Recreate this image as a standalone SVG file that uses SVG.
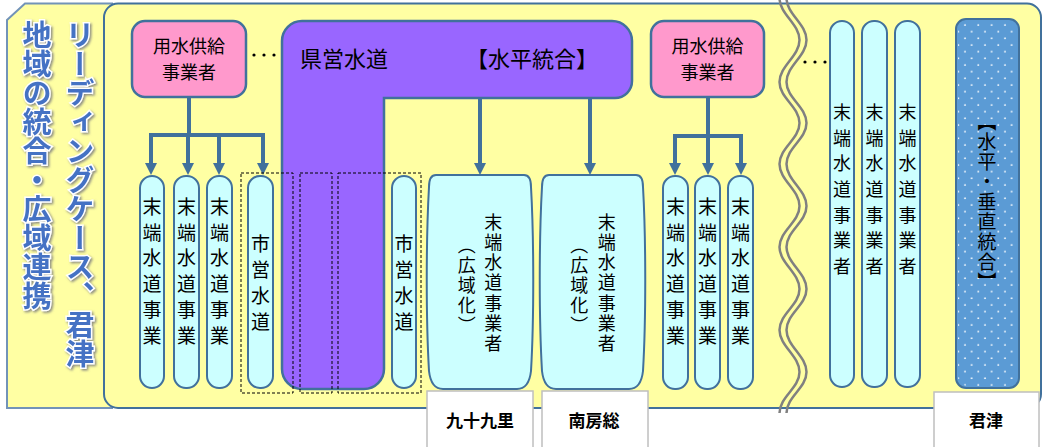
<svg xmlns="http://www.w3.org/2000/svg" width="1043" height="447" viewBox="0 0 1043 447">
<defs>
<style>
.jp{font-family:"Noto Sans CJK JP","Noto Sans CJK SC",sans-serif;fill:#000}
.v{writing-mode:vertical-rl}
.cap{fill:#ccffff;stroke:#41719c;stroke-width:2}
.pink{fill:#ff99cc;stroke:#41719c;stroke-width:2.5}
.conn{fill:none;stroke:#41719c;stroke-width:4}
.dash{fill:none;stroke:#000;stroke-width:1;stroke-dasharray:3 2}
.lab{fill:#fff;stroke:#bfbfbf;stroke-width:1.5}
.title{font-family:"Noto Sans CJK JP",sans-serif;font-weight:bold;font-size:29px;fill:#4472c4;stroke:#fff;stroke-width:3;paint-order:stroke;writing-mode:vertical-rl;filter:url(#sh)}
.wave{fill:none;stroke:#808080;stroke-width:2.5}
</style>
<filter id="sh" x="-20%" y="-5%" width="150%" height="110%">
<feDropShadow dx="1.5" dy="1.5" stdDeviation="1" flood-color="#7f7f7f" flood-opacity="0.9"/>
</filter>
<pattern id="dots" width="13.33" height="13.33" patternUnits="userSpaceOnUse" x="962" y="22">
<circle cx="3" cy="3" r="0.9" fill="#fff"/>
<circle cx="9.67" cy="9.67" r="0.9" fill="#fff"/>
</pattern>
<marker id="ah" viewBox="0 0 12 12" refX="0" refY="6" markerWidth="12" markerHeight="12" markerUnits="userSpaceOnUse" orient="auto">
<path d="M0,0 L12,6 L0,12 Z" fill="#41719c"/>
</marker>
</defs>

<g id="left-tab">
<path d="M7,20 L25,3.5 H112 V408 H7 Z" fill="#ffffa3" stroke="#7293b8" stroke-width="2"/>
<text class="title" x="80" y="20">リーディングケース、君津</text>
<text class="title" x="37" y="20">地域の統合・広域連携</text>
</g>

<g id="main-panel">
<rect x="104" y="3.5" width="937" height="404.5" rx="14" fill="#ffffa3" stroke="#41719c" stroke-width="2"/>
</g>

<g id="wave-break">
<path class="wave" transform="translate(-3.5,0)" d="M783,-2 C783,14 803,24 803,40 S783,66 783,82 S803,107 803,123 S783,148 783,164 S803,190 803,206 S783,231 783,247 S803,273 803,289 S783,314 783,330 S803,356 803,372 S783,397 783,413"/>
<path class="wave" transform="translate(3.5,0)" d="M783,-2 C783,14 803,24 803,40 S783,66 783,82 S803,107 803,123 S783,148 783,164 S803,190 803,206 S783,231 783,247 S803,273 803,289 S783,314 783,330 S803,356 803,372 S783,397 783,413"/>
</g>

<g id="ellipsis-dots" fill="#000">
<circle cx="254" cy="55" r="1.6"/><circle cx="264" cy="55" r="1.6"/><circle cx="274" cy="55" r="1.6"/>
<circle cx="805" cy="62" r="1.6"/><circle cx="815" cy="62" r="1.6"/><circle cx="825" cy="62" r="1.6"/>
</g>

<g id="supplier-left">
<rect class="pink" x="132" y="21" width="114" height="76" rx="13"/>
<text class="jp" font-size="18" text-anchor="middle"><tspan x="189" y="52.5">用水供給</tspan><tspan x="189" y="79">事業者</tspan></text>
</g>

<g id="supplier-right">
<rect class="pink" x="651" y="21" width="113" height="76" rx="13"/>
<text class="jp" font-size="18" text-anchor="middle"><tspan x="707.5" y="52.5">用水供給</tspan><tspan x="707.5" y="79">事業者</tspan></text>
</g>

<g id="prefectural-water">
<path d="M302,21 H612 A20,20 0 0 1 632,41 V81 A17,17 0 0 1 615,98 H384 V369 A20,20 0 0 1 364,389 H302 A20,20 0 0 1 282,369 V41 A20,20 0 0 1 302,21 Z" fill="#9966ff" stroke="#41719c" stroke-width="2.5"/>
<text class="jp" x="300" y="67" font-size="22">県営水道</text>
<text class="jp" x="532" y="67" font-size="22" text-anchor="middle">【水平統合】</text>
</g>

<g id="connectors">
<path class="conn" d="M189,97 V135"/>
<path class="conn" d="M149,135 H265"/>
<path class="conn" d="M151,135 V163" marker-end="url(#ah)"/>
<path class="conn" d="M188,135 V163" marker-end="url(#ah)"/>
<path class="conn" d="M219,135 V163" marker-end="url(#ah)"/>
<path class="conn" d="M263,135 V163" marker-end="url(#ah)"/>
<path class="conn" d="M480,98 V163" marker-end="url(#ah)"/>
<path class="conn" d="M590,98 V163" marker-end="url(#ah)"/>
<path class="conn" d="M708,97 V136"/>
<path class="conn" d="M673,136 H743"/>
<path class="conn" d="M675,136 V163" marker-end="url(#ah)"/>
<path class="conn" d="M708,136 V163" marker-end="url(#ah)"/>
<path class="conn" d="M741,136 V163" marker-end="url(#ah)"/>
</g>

<g id="end-user-l1"><rect class="cap" x="140" y="176" width="24" height="212" rx="12"/><text class="jp v" x="152" y="197" font-size="19" letter-spacing="6.8">末端水道事業</text></g>
<g id="end-user-l2"><rect class="cap" x="174" y="176" width="25" height="212" rx="12"/><text class="jp v" x="186.5" y="197" font-size="19" letter-spacing="6.8">末端水道事業</text></g>
<g id="end-user-l3"><rect class="cap" x="207" y="176" width="25" height="212" rx="12"/><text class="jp v" x="219.5" y="197" font-size="19" letter-spacing="6.8">末端水道事業</text></g>
<g id="city-water-1"><rect class="cap" x="248" y="176" width="25" height="212" rx="12"/><text class="jp v" x="260.5" y="234" font-size="19" letter-spacing="7">市営水道</text></g>
<g id="city-water-2"><rect class="cap" x="392" y="176" width="24" height="212" rx="12"/><text class="jp v" x="404" y="234" font-size="19" letter-spacing="7">市営水道</text></g>

<g id="dashed-groups">
<rect class="dash" x="241" y="173" width="52" height="220"/>
<rect class="dash" x="300" y="173" width="32" height="220"/>
<rect class="dash" x="338" y="173" width="83" height="220"/>
</g>

<g id="kujukuri-utility">
<path class="cap" d="M436,175 H524 Q531,175 531,187 C534,240 534,320 531,371 Q529,389 517,389 H443 Q431,389 429,371 C426,320 426,240 429,187 Q429,175 436,175 Z"/>
<text class="jp v" x="493.3" y="213" font-size="18" letter-spacing="2.2">末端水道事業者</text>
<text class="jp v" x="466.7" y="236" font-size="18" letter-spacing="2">（広域化）</text>
</g>
<g id="minamiboso-utility">
<path class="cap" d="M549,175 H636 Q643,175 643,187 C646,240 646,320 643,371 Q641,389 629,389 H556 Q544,389 542,371 C539,320 539,240 542,187 Q542,175 549,175 Z"/>
<text class="jp v" x="606.7" y="213" font-size="18" letter-spacing="2.2">末端水道事業者</text>
<text class="jp v" x="579.3" y="236" font-size="18" letter-spacing="2">（広域化）</text>
</g>

<g id="end-user-r1"><rect class="cap" x="663" y="176" width="25" height="213" rx="12"/><text class="jp v" x="675.5" y="197" font-size="19" letter-spacing="6.8">末端水道事業</text></g>
<g id="end-user-r2"><rect class="cap" x="695" y="176" width="25" height="213" rx="12"/><text class="jp v" x="707.5" y="197" font-size="19" letter-spacing="6.8">末端水道事業</text></g>
<g id="end-user-r3"><rect class="cap" x="728" y="176" width="25" height="213" rx="12"/><text class="jp v" x="740.5" y="197" font-size="19" letter-spacing="6.8">末端水道事業</text></g>

<g id="end-user-t1"><rect class="cap" x="830" y="21" width="24" height="366" rx="12"/><text class="jp v" x="842" y="103" font-size="18" letter-spacing="7.7">末端水道事業者</text></g>
<g id="end-user-t2"><rect class="cap" x="862" y="21" width="25" height="366" rx="12"/><text class="jp v" x="874.5" y="103" font-size="18" letter-spacing="7.7">末端水道事業者</text></g>
<g id="end-user-t3"><rect class="cap" x="895" y="21" width="25" height="366" rx="12"/><text class="jp v" x="907.5" y="103" font-size="18" letter-spacing="7.7">末端水道事業者</text></g>

<g id="kimitsu-integrated">
<rect x="956" y="19" width="63" height="369" rx="10" fill="#5b9bd5" stroke="#41719c" stroke-width="2"/>
<rect x="958" y="21" width="59" height="365" rx="9" fill="url(#dots)"/>
<text class="jp v" x="987" y="112" font-size="19" letter-spacing="1">【水平・垂直統合】</text>
</g>

<g id="label-kujukuri"><rect class="lab" x="427" y="391" width="106" height="70"/><text class="jp" x="480" y="427" font-size="17" font-weight="bold" text-anchor="middle">九十九里</text></g>
<g id="label-minamiboso"><rect class="lab" x="542" y="391" width="106" height="70"/><text class="jp" x="594" y="427" font-size="17" font-weight="bold" text-anchor="middle">南房総</text></g>
<g id="label-kimitsu"><rect class="lab" x="934" y="392" width="105" height="70"/><text class="jp" x="986" y="427" font-size="17" font-weight="bold" text-anchor="middle">君津</text></g>
</svg>
